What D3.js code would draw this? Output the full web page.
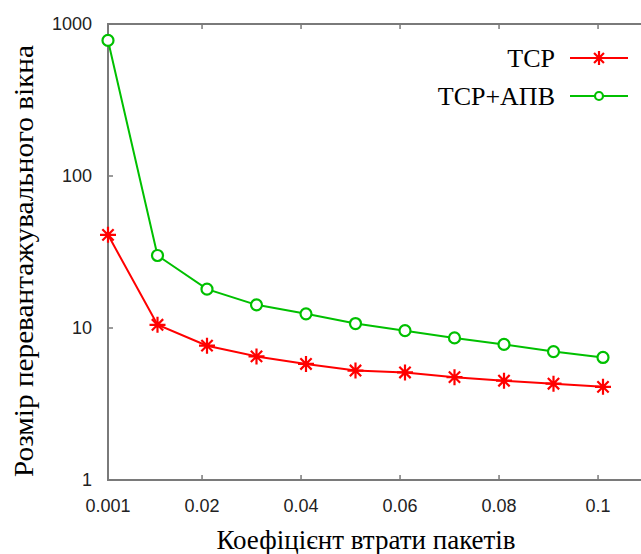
<!DOCTYPE html>
<html>
<head>
<meta charset="UTF-8">
<title>Розмір перевантажувального вікна</title>
<script src="https://d3js.org/d3.v7.min.js"></script>
<style>
    body { margin: 0; background: #fff; }
    svg { display: block; }
</style>
</head>
<body>
<svg id="chart" width="641" height="554"></svg>
<script>
    // data
    const lossRates = [0.001, 0.011, 0.021, 0.031, 0.041, 0.051, 0.061, 0.071, 0.081, 0.091, 0.101];
    const tcpValues = [41, 10.5, 7.65, 6.5, 5.8, 5.25, 5.1, 4.75, 4.5, 4.3, 4.1];
    const tcpApvValues = [780, 30, 18, 14.2, 12.4, 10.7, 9.6, 8.6, 7.8, 7.0, 6.4];
    const xTicks = [0.001, 0.02, 0.04, 0.06, 0.08, 0.1];
    const yTicks = [1, 10, 100, 1000];
    const seriesNames = ["TCP", "TCP+АПВ"];

    const sansFont = '"Liberation Sans"';
    const serifFont = '"Liberation Serif"';

    const svg = d3.select("#chart");
    const margin = {top: 24, left: 108, bottom: 74};
    const height = +svg.attr("height");

    const x = d3.scaleLinear()
        .domain([0.001, 0.11])
        .range([margin.left, margin.left + 0.109 * 4950]);

    const y = d3.scaleLog()
        .domain([1, 1000])
        .range([height - margin.bottom, margin.top]);

    const axisColor = "#7a7a7a";

    // frame (right side falls outside the picture)
    svg.append("path")
        .attr("d", `M${x.range()[1]},${y(1000)}H${x(0.001)}V${y(1)}H${x.range()[1]}`)
        .attr("stroke", axisColor).attr("stroke-width", 2).attr("fill", "none");

    // x ticks, inward top and bottom
    const xt = svg.append("g");
    xt.selectAll("line.b").data(xTicks).enter().append("line")
        .attr("x1", d => x(d)).attr("x2", d => x(d))
        .attr("y1", y(1)).attr("y2", y(1) - 5)
        .attr("stroke", axisColor).attr("stroke-width", 1.5);
    xt.selectAll("line.t").data(xTicks).enter().append("line")
        .attr("x1", d => x(d)).attr("x2", d => x(d))
        .attr("y1", y(1000)).attr("y2", y(1000) + 5)
        .attr("stroke", axisColor).attr("stroke-width", 1.5);
    xt.selectAll("text").data(xTicks).enter().append("text")
        .style("font-family", sansFont).style("font-size", "18px").attr("fill", "#222")
        .attr("x", d => x(d))
        .attr("y", y(1) + 32)
        .attr("text-anchor", "middle")
        .text(d => d3.format("")(d));

    // y ticks
    const yt = svg.append("g");
    yt.selectAll("line").data(yTicks).enter().append("line")
        .attr("x1", x(0.001)).attr("x2", x(0.001) + 5)
        .attr("y1", d => y(d)).attr("y2", d => y(d))
        .attr("stroke", axisColor).attr("stroke-width", 1.5);
    yt.selectAll("text").data(yTicks).enter().append("text")
        .style("font-family", sansFont).style("font-size", "18px").attr("fill", "#222")
        .attr("x", x(0.001) - 16)
        .attr("y", d => y(d))
        .attr("dy", "0.36em")
        .attr("text-anchor", "end")
        .text(d => d);

    // axis titles
    svg.append("text")
        .style("font-family", serifFont).style("font-size", "27px")
        .attr("x", 366)
        .attr("y", 549)
        .attr("text-anchor", "middle")
        .text("Коефіцієнт втрати пакетів");
    svg.append("text")
        .style("font-family", serifFont).style("font-size", "27px")
        .attr("transform", "translate(33,261) rotate(-90)")
        .attr("text-anchor", "middle")
        .attr("textLength", 432)
        .attr("lengthAdjust", "spacingAndGlyphs")
        .text("Розмір перевантажувального вікна");

    const line = d3.line().x(d => x(d[0])).y(d => y(d[1]));

    function starPath(cx, cy, r) {
        const d = r * Math.SQRT1_2;
        return `M${cx - r},${cy}H${cx + r}M${cx},${cy - r}V${cy + r}` +
            `M${cx - d},${cy - d}L${cx + d},${cy + d}M${cx - d},${cy + d}L${cx + d},${cy - d}`;
    }

    // TCP
    const red = "#ff0000";
    const tcpData = d3.zip(lossRates, tcpValues);
    svg.append("path").datum(tcpData)
        .attr("d", line).attr("fill", "none").attr("stroke", red).attr("stroke-width", 2);
    svg.append("g").selectAll("path").data(tcpData).enter().append("path")
        .attr("d", d => starPath(x(d[0]), y(d[1]), 8))
        .attr("stroke", red).attr("stroke-width", 2.2);

    // TCP+АПВ
    const green = "#00c000";
    const apvData = d3.zip(lossRates, tcpApvValues);
    svg.append("path").datum(apvData)
        .attr("d", line).attr("fill", "none").attr("stroke", green).attr("stroke-width", 2);
    svg.append("g").selectAll("circle").data(apvData).enter().append("circle")
        .attr("cx", d => x(d[0])).attr("cy", d => y(d[1])).attr("r", 5.5)
        .attr("fill", "#fff").attr("stroke", green).attr("stroke-width", 2.2);

    // legend
    const legend = svg.append("g");
    const legendY = [58, 96];
    legend.selectAll("text").data(seriesNames).enter().append("text")
        .style("font-family", serifFont).style("font-size", "26px")
        .attr("x", 555)
        .attr("y", (d, i) => legendY[i] + 9)
        .attr("text-anchor", "end")
        .text(d => d);
    legend.append("line")
        .attr("x1", 570).attr("x2", 628).attr("y1", legendY[0]).attr("y2", legendY[0])
        .attr("stroke", red).attr("stroke-width", 2);
    legend.append("path")
        .attr("d", starPath(599, legendY[0], 7))
        .attr("stroke", red).attr("stroke-width", 2.2);
    legend.append("line")
        .attr("x1", 570).attr("x2", 628).attr("y1", legendY[1]).attr("y2", legendY[1])
        .attr("stroke", green).attr("stroke-width", 2);
    legend.append("circle")
        .attr("cx", 599).attr("cy", legendY[1]).attr("r", 4)
        .attr("fill", "#fff").attr("stroke", green).attr("stroke-width", 2.2);
</script>
</body>
</html>
